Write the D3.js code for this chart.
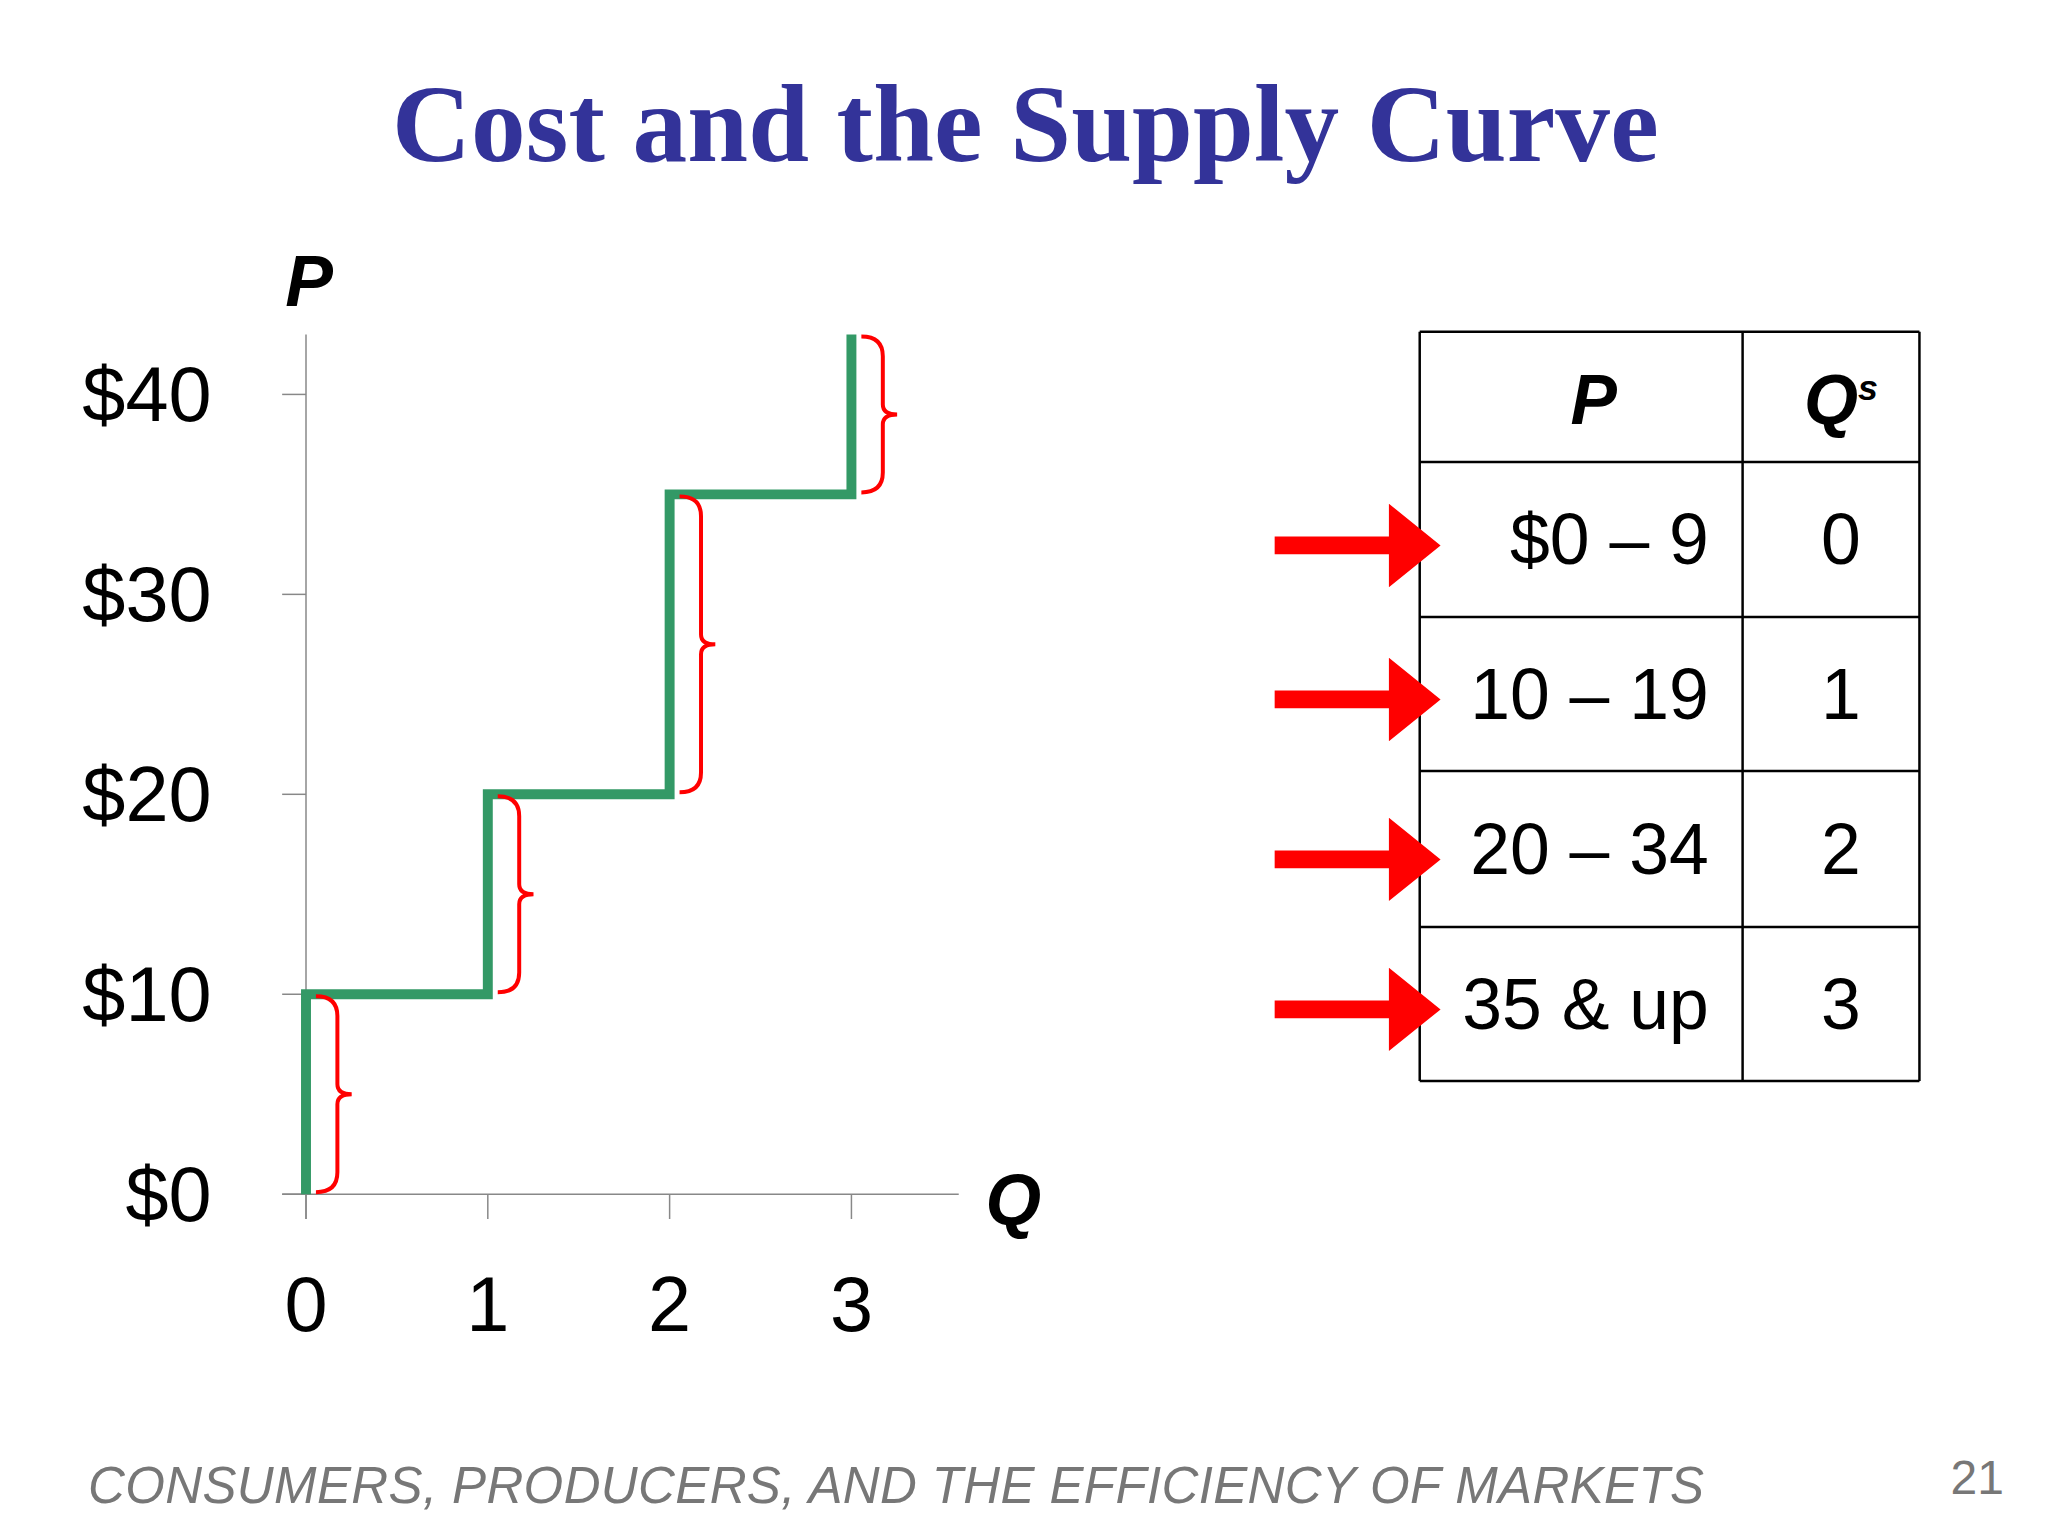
<!DOCTYPE html>
<html><head><meta charset="utf-8">
<script src="https://cdn.jsdelivr.net/npm/d3@7"></script>
<style>body{margin:0;background:#fff}</style>
</head><body>
<script>
'use strict';
var steps = [[0, 0], [0, 10], [1, 10], [1, 20], [2, 20], [2, 35], [3, 35], [3, 43]];
var braces = [[0, 0, 10], [1, 10, 20], [2, 20, 35], [3, 35, 43]];
var yTicks = [0, 10, 20, 30, 40];
var xTicks = [0, 1, 2, 3];
var tableRows = [['$0 – 9', '0'], ['10 – 19', '1'], ['20 – 34', '2'], ['35 & up', '3']];

var root = d3.select('body').append('svg').attr('width', 2048).attr('height', 1536);
var svg = root.append('g').attr('transform', 'scale(0.9935)');
var x = d3.scaleLinear().domain([0, 3]).range([308, 857]);
var y = d3.scaleLinear().domain([0, 40]).range([1202, 397]);
var font = 'Liberation Sans, Arial, sans-serif';

svg.append('text').attr('x', 1032).attr('y', 162).attr('text-anchor', 'middle')
  .attr('font-family', 'Liberation Serif, serif').attr('font-weight', 'bold')
  .attr('font-size', 110).attr('fill', '#333399').attr('textLength', 1275)
  .text('Cost and the Supply Curve');

// axes
var ax = svg.append('g').attr('stroke', '#888').attr('stroke-width', 1.5);
ax.append('line').attr('x1', x(0)).attr('x2', x(0)).attr('y1', y(43)).attr('y2', 1227);
ax.append('line').attr('x1', 284).attr('x2', 965).attr('y1', y(0)).attr('y2', y(0));
ax.selectAll('.yt').data(yTicks).enter().append('line')
  .attr('x1', 284).attr('x2', x(0)).attr('y1', d => y(d)).attr('y2', d => y(d));
ax.selectAll('.xt').data(xTicks).enter().append('line')
  .attr('x1', d => x(d)).attr('x2', d => x(d)).attr('y1', y(0)).attr('y2', 1227);

svg.selectAll('.yl').data(yTicks).enter().append('text')
  .attr('x', 213).attr('y', d => y(d) + 27).attr('text-anchor', 'end')
  .attr('font-family', font).attr('font-size', 78).text(d => '$' + d);
svg.selectAll('.xl').data(xTicks).enter().append('text')
  .attr('x', d => x(d)).attr('y', 1340).attr('text-anchor', 'middle')
  .attr('font-family', font).attr('font-size', 78).text(d => d);

svg.append('text').attr('x', 311).attr('y', 308).attr('text-anchor', 'middle')
  .attr('font-family', font).attr('font-weight', 'bold').attr('font-style', 'italic')
  .attr('font-size', 72).text('P');
svg.append('text').attr('x', 1020).attr('y', 1233).attr('text-anchor', 'middle')
  .attr('font-family', font).attr('font-weight', 'bold').attr('font-style', 'italic')
  .attr('font-size', 72).text('Q');

// supply curve
svg.append('path').datum(steps)
  .attr('d', d3.line().x(d => x(d[0])).y(d => y(d[1])))
  .attr('fill', 'none').attr('stroke', '#339966').attr('stroke-width', 10);

// braces
function brace(x0, ya, yb) {
  var w = 36, m = (ya + yb) / 2, c = 10;
  return 'M' + x0 + ',' + ya + ' Q' + (x0 + w * 0.6) + ',' + ya + ' ' + (x0 + w * 0.6) + ',' + (ya + c * 2) +
    ' L' + (x0 + w * 0.6) + ',' + (m - c) + ' Q' + (x0 + w * 0.6) + ',' + m + ' ' + (x0 + w) + ',' + m +
    ' Q' + (x0 + w * 0.6) + ',' + m + ' ' + (x0 + w * 0.6) + ',' + (m + c) +
    ' L' + (x0 + w * 0.6) + ',' + (yb - c * 2) + ' Q' + (x0 + w * 0.6) + ',' + yb + ' ' + x0 + ',' + yb;
}
svg.selectAll('.br').data(braces).enter().append('path')
  .attr('d', d => brace(x(d[0]) + 10, y(d[2]) + 2, y(d[1]) - 2))
  .attr('fill', 'none').attr('stroke', '#ff0000').attr('stroke-width', 4);

// table
var rowY = [334, 465, 621, 776, 933, 1088];
var tx = [1429, 1754, 1932];
var t = svg.append('g').attr('stroke', '#000').attr('stroke-width', 2.5);
t.selectAll('.h').data(rowY).enter().append('line')
  .attr('x1', tx[0]).attr('x2', tx[2]).attr('y1', d => d).attr('y2', d => d);
t.selectAll('.v').data(tx).enter().append('line')
  .attr('x1', d => d).attr('x2', d => d).attr('y1', rowY[0]).attr('y2', rowY[5]);

svg.append('text').attr('x', 1604).attr('y', 427).attr('text-anchor', 'middle')
  .attr('font-family', font).attr('font-weight', 'bold').attr('font-style', 'italic')
  .attr('font-size', 70).text('P');
var qs = svg.append('text').attr('x', 1853).attr('y', 427).attr('text-anchor', 'middle')
  .attr('font-family', font).attr('font-weight', 'bold').attr('font-style', 'italic')
  .attr('font-size', 70);
qs.append('tspan').text('Q');
qs.append('tspan').attr('font-size', 36).attr('dy', -24).text('s');

var rows = svg.selectAll('.row').data(tableRows).enter().append('g');
rows.append('text').attr('x', 1720).attr('y', (d, i) => (rowY[i + 1] + rowY[i + 2]) / 2 + 25)
  .attr('text-anchor', 'end').attr('font-family', font).attr('font-size', 72).text(d => d[0]);
rows.append('text').attr('x', 1853).attr('y', (d, i) => (rowY[i + 1] + rowY[i + 2]) / 2 + 25)
  .attr('text-anchor', 'middle').attr('font-family', font).attr('font-size', 72).text(d => d[1]);

// arrows
var arrowY = [549, 704, 865, 1016];
svg.selectAll('.ar').data(arrowY).enter().append('path')
  .attr('d', d => 'M1283,' + (d - 9) + ' L1398,' + (d - 9) + ' L1398,' + (d - 42) + ' L1450,' + d +
    ' L1398,' + (d + 42) + ' L1398,' + (d + 9) + ' L1283,' + (d + 9) + 'Z')
  .attr('fill', '#ff0000');

root.append('text').attr('x', 88).attr('y', 1503).attr('font-family', font)
  .attr('font-style', 'italic').attr('font-size', 51).attr('fill', '#777')
  .attr('textLength', 1616).text('CONSUMERS, PRODUCERS, AND THE EFFICIENCY OF MARKETS');
root.append('text').attr('x', 2004).attr('y', 1494).attr('text-anchor', 'end').attr('font-family', font)
  .attr('font-size', 48).attr('fill', '#777').text('21');
</script>
</body></html>
